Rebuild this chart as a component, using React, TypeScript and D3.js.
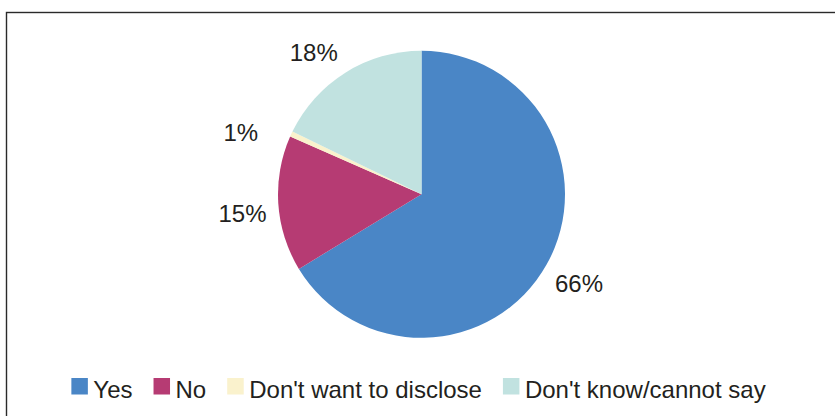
import React, { useEffect, useRef } from "react";
import * as d3 from "d3";

const categories = ["Yes", "No", "Don't want to disclose", "Don't know/cannot say"];
const values = [66.3, 15.3, 0.6, 17.8];
const valueLabels = ["66%", "15%", "1%", "18%"];
const colors = ["#4a86c6", "#b63b73", "#faf2cd", "#c1e2e0"];

const W = 835;
const H = 416;

// label placement tweaks (layout only): angular shift (deg) and radius per label
const labelAngleShift = [0.2, -2.2, -6, -5.2];
const labelRadius = [181, 180, 191, 178];

export default function App() {
  const ref = useRef<SVGSVGElement>(null);

  useEffect(() => {
    const svg = d3.select(ref.current);
    svg.selectAll("*").remove();

    // frame
    svg
      .append("rect")
      .attr("x", 6.5)
      .attr("y", 12.5)
      .attr("width", W + 20)
      .attr("height", H + 20)
      .attr("fill", "none")
      .attr("stroke", "#2a2a2a")
      .attr("stroke-width", 1.4);

    const cx = 421.5;
    const cy = 194.3;
    const r = 143.5;

    const pie = d3
      .pie<number>()
      .sort(null)
      .value((d) => d);
    const arcs = pie(values);
    const arc = d3.arc<d3.PieArcDatum<number>>().innerRadius(0).outerRadius(r);

    const g = svg.append("g").attr("transform", `translate(${cx},${cy})`);
    g.selectAll("path.slice")
      .data(arcs)
      .enter()
      .append("path")
      .attr("class", "slice")
      .attr("d", arc)
      .attr("fill", (_, i) => colors[i]);

    g.selectAll("text.lbl")
      .data(arcs)
      .enter()
      .append("text")
      .attr("class", "lbl")
      .attr("transform", (d, i) => {
        const a = (d.startAngle + d.endAngle) / 2 + (labelAngleShift[i] * Math.PI) / 180;
        const rr = labelRadius[i];
        return `translate(${Math.sin(a) * rr},${-Math.cos(a) * rr})`;
      })
      .attr("text-anchor", "middle")
      .attr("dy", "0.36em")
      .attr("font-family", "Liberation Sans, Arial, sans-serif")
      .attr("font-size", 24)
      .attr("fill", "#231f20")
      .text((_, i) => valueLabels[i]);

    // legend
    const legend = svg.append("g");
    const sw = 16.5;
    const gapText = 5.5;
    const gapItem = 21;
    const items = legend
      .selectAll("g.item")
      .data(categories)
      .enter()
      .append("g")
      .attr("class", "item");
    items
      .append("rect")
      .attr("y", 378)
      .attr("width", sw)
      .attr("height", sw)
      .attr("fill", (_, i) => colors[i]);
    const texts = items
      .append("text")
      .attr("x", sw + gapText)
      .attr("y", 397.5)
      .attr("font-family", "Liberation Sans, Arial, sans-serif")
      .attr("font-size", 24)
      .attr("fill", "#231f20")
      .text((d) => d);
    const widths: number[] = [];
    texts.each(function () {
      widths.push((this as SVGTextElement).getComputedTextLength());
    });
    const total =
      widths.reduce((a, w) => a + w + sw + gapText, 0) + gapItem * (widths.length - 1);
    let x = 418.5 - total / 2;
    items.attr("transform", (_, i) => {
      const t = `translate(${x},0)`;
      x += sw + gapText + widths[i] + gapItem;
      return t;
    });
  }, []);

  return (
    <svg
      ref={ref}
      width={W}
      height={H}
      style={{ position: "absolute", left: 0, top: 0, background: "#fff" }}
    />
  );
}
